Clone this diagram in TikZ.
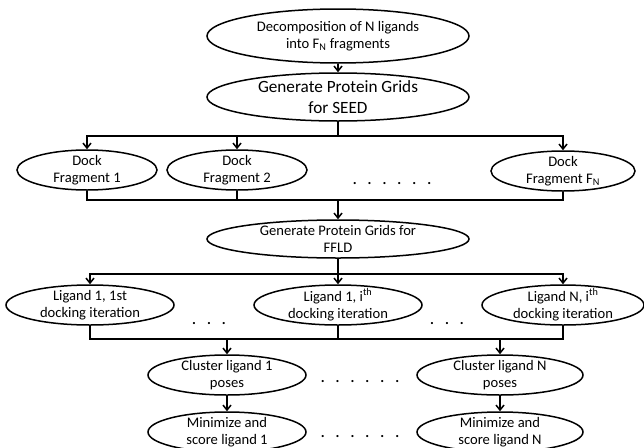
\documentclass[tikz,border=0pt]{standalone}
\usepackage{fontspec}
\setmainfont{Carlito}
\usetikzlibrary{shapes.geometric,arrows.meta}

\newcommand{\dotgap}{\hspace{11pt}}

\begin{document}
\begin{tikzpicture}[%
        x=1pt, y=1pt,
        yscale=-1,
        line width=1.5pt,
        stage/.style={%
            draw, ellipse,
            inner xsep=0pt, inner ysep=-5pt,
            align=center,
            node font=\fontsize{14.6}{17.5}\selectfont,
        },
        bigstage/.style={%
            stage,
            node font=\fontsize{17.2}{20.5}\selectfont,
        },
        gapdots/.style={%
            anchor=base, inner sep=0pt,
            node font=\fontsize{14.6}{17.5}\selectfont\bfseries,
        },
        flow/.style={-{Straight Barb[length=5pt,width=8pt]}},
    ]

    \useasboundingbox (0,0) rectangle (644,447);

    \node (decomp) at (338,36) [stage, minimum width=262, minimum height=54]
        {Decomposition of N ligands\\into F\textsubscript{N} fragments};
    \node (seedgrid) at (338,97) [bigstage, minimum width=262, minimum height=48]
        {Generate Protein Grids\\for SEED};

    \node (dock_one) at (87,170) [stage, minimum width=140, minimum height=40] {Dock\\Fragment 1};
    \node (dock_two) at (237,170) [stage, minimum width=140, minimum height=40] {Dock\\Fragment 2};
    \node (dock_n) at (563,171) [stage, minimum width=144, minimum height=40] {Dock\\Fragment F\textsubscript{N}};
    \node (dock_dots) at (392,184) [gapdots] {.\dotgap.\dotgap.\dotgap.\dotgap.\dotgap.};

    \node (ffldgrid) at (338,239) [stage, minimum width=262, minimum height=38]
        {Generate Protein Grids for\\FFLD};

    \node (ligand_one) at (90,305) [stage, minimum width=168, minimum height=40] {Ligand 1, 1st\\docking iteration};
    \node (ligand_i) at (338,305) [stage, minimum width=168, minimum height=40] {Ligand 1, i\textsuperscript{th}\\docking iteration};
    \node (ligand_n) at (563,305) [stage, minimum width=162, minimum height=40] {Ligand N, i\textsuperscript{th}\\docking iteration};
    \node (ligand_dots_a) at (209,324) [gapdots] {.\dotgap.\dotgap.};
    \node (ligand_dots_b) at (447,324) [gapdots] {.\dotgap.\dotgap.};

    \node (cluster_one) at (227,375) [stage, minimum width=158, minimum height=40] {Cluster ligand 1\\poses};
    \node (cluster_n) at (500,375) [stage, minimum width=166, minimum height=40] {Cluster ligand N\\poses};
    \node (cluster_dots) at (360,382) [gapdots] {.\dotgap.\dotgap.\dotgap.\dotgap.\dotgap.};

    \node (minimize_one) at (227,432) [stage, minimum width=158, minimum height=40] {Minimize and\\score ligand 1};
    \node (minimize_n) at (500,432) [stage, minimum width=166, minimum height=40] {Minimize and\\score ligand N};
    \node (minimize_dots) at (360,437) [gapdots] {.\dotgap.\dotgap.\dotgap.\dotgap.\dotgap.};

    \coordinate (seed_bus) at (338,136);
    \coordinate (dock_bus) at (338,200);
    \coordinate (ffld_bus) at (338,274);
    \coordinate (ligand_bus) at (338,339);

    \draw [flow] (decomp) -- (seedgrid);
    \draw (seedgrid) -- (seed_bus);
    \foreach \target in {dock_one,dock_two,dock_n} {%
        \draw [flow] (seed_bus) -| (\target);
        \draw (\target) |- (dock_bus);
    }
    \draw [flow] (dock_bus) -- (ffldgrid);

    \draw (ffldgrid) -- (ffld_bus);
    \foreach \target in {ligand_one,ligand_i,ligand_n} {%
        \draw [flow] (ffld_bus) -| (\target);
        \draw (\target) |- (ligand_bus);
    }
    \draw [flow] (ligand_bus) -| (cluster_one);
    \draw [flow] (ligand_bus) -| (cluster_n);

    \draw [flow] (cluster_one) -- (minimize_one);
    \draw [flow] (cluster_n) -- (minimize_n);
\end{tikzpicture}
\end{document}
